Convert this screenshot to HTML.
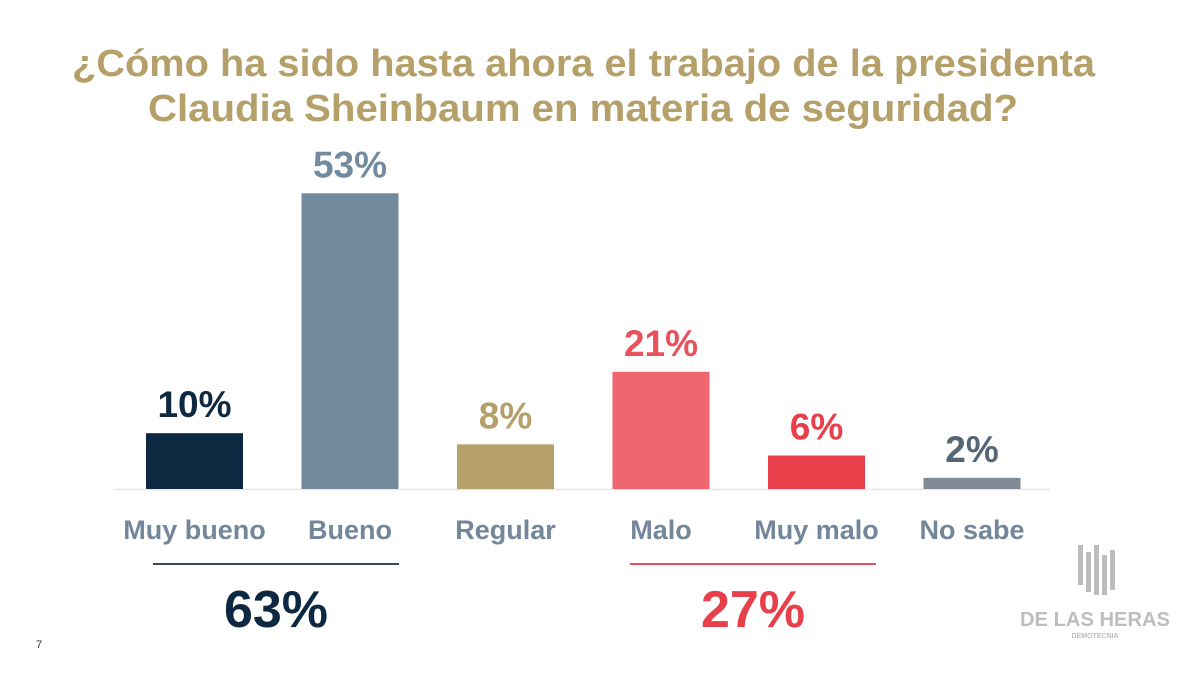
<!DOCTYPE html>
<html><head><meta charset="utf-8"><style>
body{margin:0;background:#fff;}
svg{display:block;font-family:"Liberation Sans",sans-serif;font-weight:bold;}
</style></head><body>
<svg width="1200" height="675" viewBox="0 0 1200 675">
<text x="72" y="76" textLength="1023" lengthAdjust="spacingAndGlyphs" font-size="38" fill="#b5a06a">¿Cómo ha sido hasta ahora el trabajo de la presidenta</text>
<text x="148" y="121" textLength="870" lengthAdjust="spacingAndGlyphs" font-size="38" fill="#b5a06a">Claudia Sheinbaum en materia de seguridad?</text>
<line x1="115" y1="489.5" x2="1050" y2="489.5" stroke="#e6e6e6" stroke-width="1.5"/>
<g id="bars"></g>
<line x1="153" y1="564" x2="399" y2="564" stroke="#3a4654" stroke-width="2"/>
<line x1="630" y1="564" x2="876" y2="564" stroke="#e8525c" stroke-width="2"/>
<text x="276" y="627" text-anchor="middle" font-size="52" fill="#0d2841">63%</text>
<text x="753" y="627" text-anchor="middle" font-size="52" fill="#e8404b">27%</text>
<text x="36" y="648" font-size="11" font-weight="normal" fill="#333">7</text>
<g fill="#bdbdbd">
<rect x="1078" y="545" width="5" height="40"/><rect x="1086" y="552" width="5" height="40"/><rect x="1094" y="545" width="5" height="50"/><rect x="1102" y="555" width="5" height="40"/><rect x="1110" y="550" width="5" height="40"/>
<text x="1095" y="626" text-anchor="middle" font-size="20" textLength="150" lengthAdjust="spacingAndGlyphs">DE LAS HERAS</text>
<text x="1095" y="638" text-anchor="middle" font-size="7">DEMOTECNIA</text>
</g>
</svg>
<script>
const categories=["Muy bueno","Bueno","Regular","Malo","Muy malo","No sabe"];
const values=[10,53,8,21,6,2];
const labels=["10%","53%","8%","21%","6%","2%"];
const colors=["#0d2841","#738a9f","#b5a06a","#f0666f","#e8404b","#7f8a94"];
const labelColors=["#0d2841","#738a9f","#b5a06a","#e8525c","#e8404b","#556677"];
const g=document.getElementById('bars');
const NS="http://www.w3.org/2000/svg";
const base=489, scale=5.58, x0=146, step=155.5, bw=97;
function xPos(i){return x0+i*step;}
function yPos(v){return base-v*scale;}
categories.forEach((c,i)=>{
  const r=document.createElementNS(NS,'rect');
  
  
  r.setAttribute('x',xPos(i));r.setAttribute('y',yPos(values[i]));
  r.setAttribute('width',bw);r.setAttribute('height',base-yPos(values[i]));
  r.setAttribute('fill',colors[i]);g.appendChild(r);
  const t=document.createElementNS(NS,'text');
  
  
  t.setAttribute('x',xPos(i)+bw/2);t.setAttribute('y',yPos(values[i])-16);
  t.setAttribute('text-anchor','middle');t.setAttribute('font-size','37');
  t.setAttribute('fill',labelColors[i]);t.textContent=labels[i];g.appendChild(t);
  const l=document.createElementNS(NS,'text');
  
  
  l.setAttribute('x',xPos(i)+bw/2);l.setAttribute('y',539);
  l.setAttribute('text-anchor','middle');l.setAttribute('font-size','27');
  l.setAttribute('fill','#73869a');l.textContent=c;g.appendChild(l);
});
</script>
</body></html>
